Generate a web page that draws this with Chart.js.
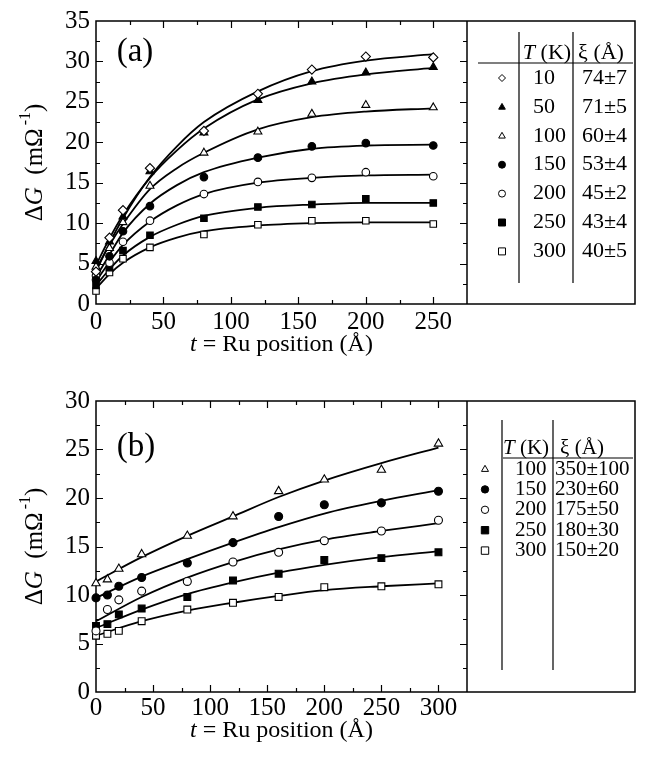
<!DOCTYPE html>
<html>
<head>
<meta charset="utf-8">
<script src="https://cdn.jsdelivr.net/npm/chart.js@4.4.1/dist/chart.umd.min.js"></script>
<style>
  body { margin: 0; background: #fff; }
  .panel { position: absolute; left: 0; width: 652px; }
  #panelA { top: 0; height: 380px; }
  #panelB { top: 380px; height: 390px; }
</style>
</head>
<body>
<div class="panel" id="panelA"><canvas id="chartA"></canvas></div>
<div class="panel" id="panelB"><canvas id="chartB"></canvas></div>
<script>
// ---- panel (a): measured points ----
const tPosA = [0, 10, 20, 40, 80, 120, 160, 200, 250];
const gA10 = [4.0, 8.2, 11.6, 16.8, 21.4, 26.0, 29.0, 30.6, 30.5];
const gA50 = [5.3, 7.7, 10.8, 16.4, 21.2, 25.2, 27.5, 28.6, 29.3];
const gA100 = [4.6, 6.9, 10.1, 14.6, 18.7, 21.3, 23.5, 24.6, 24.3];
const gA150 = [3.0, 5.9, 9.0, 12.1, 15.7, 18.1, 19.5, 19.9, 19.6];
const gA200 = [3.5, 5.1, 7.7, 10.3, 13.6, 15.1, 15.6, 16.3, 15.8];
const gA250 = [2.3, 4.5, 6.6, 8.5, 10.6, 12.0, 12.3, 13.0, 12.5];
const gA300 = [1.6, 3.9, 5.6, 7.0, 8.6, 9.8, 10.3, 10.3, 9.9];

// ---- panel (a): fitted curves ----
const fitPosA = [0, 10, 20, 40, 60, 80, 120, 160, 200, 250];
const fitA10 = [4.0, 7.5, 10.6, 15.7, 19.5, 22.5, 26.3, 28.8, 30.1, 30.9];
const fitA50 = [4.8, 8.1, 11.0, 15.6, 19.0, 21.7, 25.3, 27.3, 28.4, 29.2];
const fitA100 = [4.3, 7.3, 9.9, 14.2, 16.8, 18.7, 21.6, 23.1, 23.8, 24.2];
const fitA150 = [3.3, 6.1, 8.8, 12.4, 14.7, 16.3, 18.1, 19.2, 19.6, 19.7];
const fitA200 = [2.8, 5.2, 7.3, 10.2, 12.2, 13.6, 15.0, 15.6, 15.9, 16.0];
const fitA250 = [2.3, 4.3, 6.0, 8.3, 9.8, 10.9, 11.9, 12.3, 12.5, 12.5];
const fitA300 = [1.9, 3.7, 5.1, 7.0, 8.2, 9.0, 9.7, 10.0, 10.1, 10.1];

const tempsA = ["10", "50", "100", "150", "200", "250", "300"];
const xiA = ["74±7", "71±5", "60±4", "53±4", "45±2", "43±4", "40±5"];
const xTicksA = [0, 50, 100, 150, 200, 250];
const yTicksA = [0, 5, 10, 15, 20, 25, 30, 35];

// ---- panel (b): measured points ----
const tPosB = [0, 10, 20, 40, 80, 120, 160, 200, 250, 300];
const gB100 = [11.2, 11.6, 12.7, 14.2, 16.1, 18.1, 20.7, 21.9, 22.9, 25.6];
const gB150 = [9.7, 10.0, 10.9, 11.8, 13.3, 15.4, 18.1, 19.3, 19.5, 20.7];
const gB200 = [6.3, 8.5, 9.5, 10.4, 11.4, 13.4, 14.4, 15.6, 16.6, 17.7];
const gB250 = [6.8, 7.0, 8.0, 8.6, 9.8, 11.5, 12.2, 13.6, 13.8, 14.4];
const gB300 = [5.8, 6.0, 6.3, 7.3, 8.5, 9.2, 9.8, 10.8, 10.9, 11.1];

// ---- panel (b): fitted curves ----
const fitPosB = [0, 40, 80, 120, 160, 200, 250, 300];
const fitB100 = [11.4, 13.9, 16.1, 18.1, 20.1, 21.8, 23.6, 25.2];
const fitB150 = [9.7, 11.9, 13.7, 15.4, 17.0, 18.4, 19.7, 20.8];
const fitB200 = [7.3, 9.8, 11.8, 13.4, 14.7, 15.7, 16.6, 17.4];
const fitB250 = [6.6, 8.5, 10.1, 11.3, 12.3, 13.1, 13.9, 14.5];
const fitB300 = [5.8, 7.3, 8.4, 9.2, 9.9, 10.5, 10.9, 11.2];

const tempsB = ["100", "150", "200", "250", "300"];
const xiB = ["350±100", "230±60", "175±50", "180±30", "150±20"];
const xTicksB = [0, 50, 100, 150, 200, 250, 300];
const yTicksB = [0, 5, 10, 15, 20, 25, 30];

const SERIF = '"Liberation Serif", "Times New Roman", serif';

// marker looks (style, filled)
const DIAMOND = { style: "rectRot", fill: false };
const TRI_F = { style: "triangle", fill: true };
const TRI_O = { style: "triangle", fill: false };
const CIRC_F = { style: "circle", fill: true };
const CIRC_O = { style: "circle", fill: false };
const SQ_F = { style: "rect", fill: true };
const SQ_O = { style: "rect", fill: false };

const markRadius = { rectRot: 4.6, triangle: 4.6, circle: 3.8, rect: 4.6 };

function pts(xs, ys) {
  return xs.map((x, i) => ({ x: x, y: ys[i] }));
}

function pointSet(xs, ys, mark, scale) {
  return {
    data: pts(xs, ys),
    showLine: false,
    pointStyle: mark.style,
    pointRadius: markRadius[mark.style] * scale,
    pointBackgroundColor: mark.fill ? "#000" : "#fff",
    pointBorderColor: "#000",
    pointBorderWidth: 1.1,
    clip: false,
    order: 0,
  };
}

function fitSet(xs, ys) {
  return {
    data: pts(xs, ys),
    showLine: true,
    pointRadius: 0,
    borderColor: "#000",
    borderWidth: 1.8,
    cubicInterpolationMode: "monotone",
    fill: false,
    clip: false,
    order: 1,
  };
}

// own marker drawing for the table legend
function drawMarker(ctx, mark, x, y, r) {
  ctx.save();
  ctx.beginPath();
  if (mark.style === "circle") {
    ctx.arc(x, y, r, 0, Math.PI * 2);
  } else if (mark.style === "rect") {
    ctx.rect(x - r, y - r, 2 * r, 2 * r);
  } else if (mark.style === "rectRot") {
    ctx.moveTo(x - r, y); ctx.lineTo(x, y - r); ctx.lineTo(x + r, y); ctx.lineTo(x, y + r);
    ctx.closePath();
  } else {
    ctx.moveTo(x, y - r); ctx.lineTo(x + r * 0.95, y + r * 0.65); ctx.lineTo(x - r * 0.95, y + r * 0.65);
    ctx.closePath();
  }
  ctx.fillStyle = mark.fill ? "#000" : "#fff";
  ctx.fill();
  ctx.lineWidth = 1;
  ctx.strokeStyle = "#000";
  ctx.stroke();
  ctx.restore();
}

// draw a run of text pieces; each piece {t, it, size, dy, gap}
function drawRun(ctx, pieces, x, y, baseSize, align) {
  const fontOf = (p) => (p.it ? "italic " : "") + (p.size || baseSize) + "px " + SERIF;
  let total = 0;
  pieces.forEach((p) => { ctx.font = fontOf(p); total += ctx.measureText(p.t).width + (p.gap || 0); });
  let cx = align === "center" ? x - total / 2 : x;
  ctx.fillStyle = "#000";
  ctx.textAlign = "left";
  ctx.textBaseline = "middle";
  pieces.forEach((p) => {
    ctx.font = fontOf(p);
    ctx.fillText(p.t, cx + (p.gap || 0), y + (p.dy || 0));
    cx += ctx.measureText(p.t).width + (p.gap || 0);
  });
}

const framePlugin = {
  id: "frame",
  beforeDatasetsDraw(chart, args, o) {
    const { ctx, chartArea: a } = chart;
    const x = chart.scales.x, y = chart.scales.y;
    ctx.save();
    ctx.strokeStyle = "#000";
    ctx.lineWidth = 1.5;
    ctx.strokeRect(a.left, a.top, o.boxRight - a.left, a.bottom - a.top);
    ctx.beginPath();
    ctx.moveTo(a.right, a.top);
    ctx.lineTo(a.right, a.bottom);
    ctx.stroke();

    ctx.lineWidth = 1.2;
    ctx.beginPath();
    for (let v = x.min + o.xMinor; v < x.max - 1e-6; v += o.xMinor) {
      const px = Math.round(x.getPixelForValue(v)) + 0.5;
      const len = Math.abs(v % o.xMajor) < 1e-6 ? 7 : 4;
      ctx.moveTo(px, a.bottom); ctx.lineTo(px, a.bottom - len);
      ctx.moveTo(px, a.top); ctx.lineTo(px, a.top + len);
    }
    for (let v = y.min + o.yMinor; v < y.max - 1e-6; v += o.yMinor) {
      const py = Math.round(y.getPixelForValue(v)) + 0.5;
      const len = Math.abs(v % o.yMajor) < 1e-6 ? 7 : 4;
      ctx.moveTo(a.left, py); ctx.lineTo(a.left + len, py);
      ctx.moveTo(a.right, py); ctx.lineTo(a.right - len, py);
    }
    ctx.stroke();
    ctx.restore();
  },
  afterDraw(chart, args, o) {
    const { ctx, chartArea: a } = chart;
    ctx.save();
    // axis titles
    drawRun(ctx, [{ t: "t", it: true }, { t: " = Ru position (Å)" }],
      (a.left + a.right) / 2, a.bottom + o.xTitleGap, 24, "center");
    ctx.save();
    ctx.translate(35, (a.top + a.bottom) / 2);
    ctx.rotate(-Math.PI / 2);
    drawRun(ctx, [{ t: "Δ" }, { t: "G", it: true }, { t: "  (mΩ" },
      { t: "-1", size: 16, dy: -9, gap: 3 }, { t: ")" }], 0, 0, 25, "center");
    ctx.restore();
    // panel letter
    drawRun(ctx, [{ t: o.letter }], o.letterX, o.letterY, 33, "center");

    // table legend
    const L = o.table;
    ctx.strokeStyle = "#000";
    ctx.lineWidth = 1.2;
    ctx.beginPath();
    L.vLines.forEach((vx) => { ctx.moveTo(vx, L.vTop); ctx.lineTo(vx, L.vBottom); });
    ctx.moveTo(L.hLeft, L.hY); ctx.lineTo(L.hRight, L.hY);
    ctx.stroke();
    drawRun(ctx, [{ t: "T", it: true }, { t: " (K)" }], L.headTX, L.headY, L.size, "center");
    drawRun(ctx, [{ t: "ξ (Å)" }], L.headXiX, L.headY, L.size, "center");
    L.marks.forEach((m, i) => {
      const ry = L.row0 + i * L.rowStep;
      drawMarker(ctx, m, L.symX, ry, L.symR);
      drawRun(ctx, [{ t: L.temps[i] }], L.tX, ry, L.size, "left");
      drawRun(ctx, [{ t: L.xis[i] }], L.xiX, ry, L.size, "left");
    });
    ctx.restore();
  },
};

function makeChart(id, c) {
  return new Chart(document.getElementById(id), {
    type: "scatter",
    data: { datasets: c.datasets },
    options: {
      responsive: true,
      maintainAspectRatio: false,
      animation: false,
      devicePixelRatio: 1,
      layout: { padding: { left: 0, right: c.padRight, top: c.padTop, bottom: 0 } },
      plugins: {
        legend: { display: false },
        tooltip: { enabled: false },
        frame: c.frame,
      },
      scales: {
        x: {
          type: "linear",
          min: 0,
          max: c.xMax,
          grid: { display: false, drawTicks: false },
          border: { display: false },
          afterBuildTicks: (s) => { s.ticks = c.xTicks.map((v) => ({ value: v })); },
          afterFit: (s) => { s.height = c.xAxisH; },
          ticks: {
            color: "#000",
            padding: c.xTickPad,
            maxRotation: 0,
            autoSkip: false,
            font: { family: SERIF, size: 25 },
          },
        },
        y: {
          type: "linear",
          min: 0,
          max: c.yMax,
          grid: { display: false, drawTicks: false },
          border: { display: false },
          afterBuildTicks: (s) => { s.ticks = c.yTicks.map((v) => ({ value: v })); },
          afterFit: (s) => { s.width = 96; },
          ticks: {
            color: "#000",
            padding: 6,
            autoSkip: false,
            font: { family: SERIF, size: 25 },
          },
        },
      },
    },
    plugins: [framePlugin],
  });
}

const marksA = [DIAMOND, TRI_F, TRI_O, CIRC_F, CIRC_O, SQ_F, SQ_O];
const seriesA = [gA10, gA50, gA100, gA150, gA200, gA250, gA300];
const fitsA = [fitA10, fitA50, fitA100, fitA150, fitA200, fitA250, fitA300];

makeChart("chartA", {
  datasets: seriesA.map((s, i) => pointSet(tPosA, s, marksA[i], 1))
    .concat(fitsA.map((f) => fitSet(fitPosA, f))),
  padRight: 185, padTop: 12, xAxisH: 76, xTickPad: 3,
  xMax: 275, yMax: 35, xTicks: xTicksA, yTicks: yTicksA,
  frame: {
    boxRight: 635, xMinor: 25, xMajor: 50, yMinor: 2.5, yMajor: 5,
    xTitleGap: 41, letter: "(a)", letterX: 135, letterY: 52,
    table: {
      vLines: [519, 573], vTop: 32, vBottom: 283,
      hLeft: 478, hRight: 633, hY: 63,
      headY: 53, headTX: 547, headXiX: 601,
      row0: 78, rowStep: 28.9, symX: 502, symR: 3.5,
      tX: 533, xiX: 582, size: 22,
      marks: marksA, temps: tempsA, xis: xiA,
    },
  },
});

const marksB = [TRI_O, CIRC_F, CIRC_O, SQ_F, SQ_O];
const seriesB = [gB100, gB150, gB200, gB250, gB300];
const fitsB = [fitB100, fitB150, fitB200, fitB250, fitB300];

makeChart("chartB", {
  datasets: seriesB.map((s, i) => pointSet(tPosB, s, marksB[i], 1.05))
    .concat(fitsB.map((f) => fitSet(fitPosB, f))),
  padRight: 185, padTop: 21, xAxisH: 78, xTickPad: 1,
  xMax: 325, yMax: 30, xTicks: xTicksB, yTicks: yTicksB,
  frame: {
    boxRight: 635, xMinor: 25, xMajor: 50, yMinor: 2.5, yMajor: 5,
    xTitleGap: 39, letter: "(b)", letterX: 136, letterY: 67,
    table: {
      vLines: [502, 553], vTop: 40, vBottom: 290,
      hLeft: 503, hRight: 633, hY: 78,
      headY: 68, headTX: 526, headXiX: 582,
      row0: 89, rowStep: 20.4, symX: 485, symR: 3.7,
      tX: 515, xiX: 555, size: 21,
      marks: marksB, temps: tempsB, xis: xiB,
    },
  },
});
</script>
</body>
</html>
